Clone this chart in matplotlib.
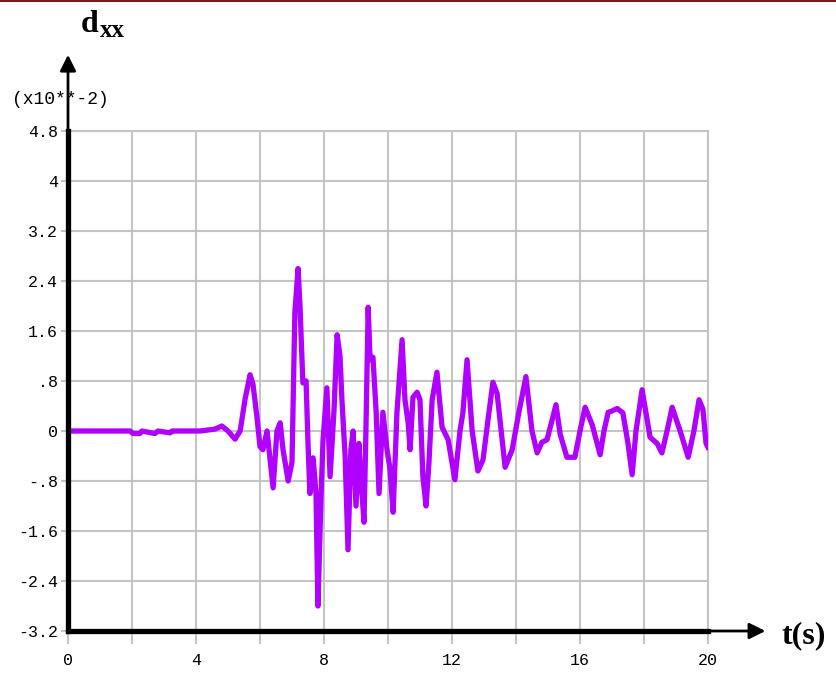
import matplotlib
matplotlib.use("Agg")
import matplotlib.pyplot as plt
from matplotlib.lines import Line2D

# displacement record d_xx (units of 1e-2) against time in seconds
t = [0.0, 1.94, 2.03, 2.25, 2.31, 2.72, 2.81, 3.19, 3.25, 4.13, 4.59, 4.81,
     5.0, 5.22, 5.38, 5.53, 5.69, 5.78, 5.91, 6.0, 6.09, 6.22, 6.41, 6.53,
     6.63, 6.72, 6.88, 7.0, 7.09, 7.19, 7.25, 7.34, 7.44, 7.5, 7.56, 7.66,
     7.75, 7.81, 7.91, 7.97, 8.09, 8.19, 8.31, 8.41, 8.5, 8.56, 8.66, 8.75,
     8.84, 8.91, 9.0, 9.09, 9.16, 9.25, 9.31, 9.38, 9.44, 9.53, 9.63, 9.72,
     9.84, 9.97, 10.06, 10.16, 10.28, 10.44, 10.53, 10.63, 10.69, 10.78,
     10.91, 11.0, 11.09, 11.19, 11.28, 11.38, 11.53, 11.69, 11.88, 12.09,
     12.25, 12.34, 12.47, 12.63, 12.81, 12.97, 13.13, 13.28, 13.41, 13.66,
     13.88, 14.09, 14.31, 14.5, 14.66, 14.81, 14.97, 15.09, 15.25, 15.38,
     15.59, 15.84, 16.0, 16.16, 16.38, 16.63, 16.75, 16.88, 17.0, 17.16,
     17.34, 17.5, 17.63, 17.75, 17.94, 18.09, 18.19, 18.41, 18.56, 18.72,
     18.88, 19.13, 19.38, 19.56, 19.72, 19.84, 19.94, 20.0]
dxx = [0.0, 0.0, -0.04, -0.04, 0.0, -0.04, 0.0, -0.03, 0.0, 0.0, 0.03, 0.08,
       0.0, -0.13, 0.0, 0.5, 0.9, 0.75, 0.2, -0.25, -0.3, 0.0, -0.91, 0.0,
       0.13, -0.3, -0.8, -0.5, 1.9, 2.6, 2.0, 0.77, 0.8, -0.2, -1.0, -0.43,
       -1.0, -2.8, -1.0, -0.14, 0.69, -0.73, 0.3, 1.54, 1.2, 0.5, -0.4, -1.9,
       -0.3, 0.0, -1.2, -0.2, -0.8, -1.46, 0.0, 1.98, 1.14, 1.18, 0.3, -1.0,
       0.3, -0.3, -0.6, -1.3, 0.3, 1.46, 0.5, 0.13, -0.3, 0.54,
       0.62, 0.5, -0.73, -1.2, -0.5, 0.5, 0.94, 0.06, -0.14, -0.78,
       0.0, 0.29, 1.14, 0.0, -0.64, -0.46, 0.2, 0.78, 0.6, -0.58,
       -0.3, 0.3, 0.87, 0.0, -0.35, -0.18, -0.14, 0.1, 0.42, -0.05,
       -0.42, -0.42, 0.0, 0.38, 0.1, -0.38, 0.0, 0.3, 0.32, 0.36,
       0.29, -0.2, -0.7, 0.0, 0.66, 0.2, -0.1, -0.2, -0.35, 0.0,
       0.38, 0.0, -0.42, 0.0, 0.5, 0.35, -0.2, -0.26]

x_ticks = [0, 2, 4, 6, 8, 10, 12, 14, 16, 18, 20]
x_labels = ['0', '', '4', '', '8', '', '12', '', '16', '', '20']
y_ticks = [4.8, 4.0, 3.2, 2.4, 1.6, 0.8, 0.0, -0.8, -1.6, -2.4, -3.2]
y_labels = ['4.8', '4', '3.2', '2.4', '1.6', '.8', '0', '-.8', '-1.6', '-2.4', '-3.2']

mono = 'Liberation Mono'
serif = 'Liberation Serif'
grid_c = '#c4c4c4'

fig = plt.figure(figsize=(8.36, 6.73), dpi=100)
ax = fig.add_axes([68 / 836, 42 / 673, 640 / 836, 500 / 673])

ax.plot(t, dxx, color='#b000ff', lw=3.8, zorder=3)

ax.set_xlim(0, 20)
ax.set_ylim(-3.2, 4.8)
ax.set_xticks(x_ticks)
ax.set_xticklabels(x_labels, fontfamily=mono, fontsize=12)
ax.set_yticks(y_ticks)
ax.set_yticklabels(y_labels, fontfamily=mono, fontsize=12)
ax.tick_params(axis='x', length=9.5, width=1.5, color=grid_c, pad=6)
ax.tick_params(axis='y', length=5, width=1.5, color=grid_c, pad=2)
ax.grid(True, color=grid_c, lw=1.5, zorder=1)
ax.set_axisbelow(True)

for side in ('top', 'right'):
    ax.spines[side].set_color(grid_c)
    ax.spines[side].set_linewidth(1.5)
for side in ('left', 'bottom'):
    ax.spines[side].set_color('black')
    ax.spines[side].set_linewidth(3.8)
    ax.spines[side].set_zorder(4)

# axis arrows beyond the plotting box
ax.annotate('', xy=(0, 1.158), xytext=(0, 0.99), xycoords='axes fraction',
            arrowprops=dict(arrowstyle='-|>', lw=2, color='black', mutation_scale=24))
ax.annotate('', xy=(1.094, 0), xytext=(0.99, 0), xycoords='axes fraction',
            arrowprops=dict(arrowstyle='-|>', lw=2, color='black', mutation_scale=24))

fig.text(12 / 836, 1 - 100 / 673, '(x10**-2)', fontfamily=mono, fontsize=13, va='center')
fig.text(81 / 836, 1 - 32 / 673, 'd', fontfamily=serif, fontweight='bold', fontsize=23,
         va='baseline')
fig.text(100 / 836, 1 - 37 / 673, 'xx', fontfamily=serif, fontweight='bold', fontsize=18,
         va='baseline')
fig.text(781 / 836, 1 - 636 / 673, 't(s)', fontfamily=serif, fontweight='bold', fontsize=23,
         va='center')

# thin dark red rule along the top edge
fig.add_artist(Line2D([0, 1], [1 - 1 / 673, 1 - 1 / 673], transform=fig.transFigure,
                      color='#7a1c1c', lw=1.5))

fig.savefig('out.png', dpi=100)
